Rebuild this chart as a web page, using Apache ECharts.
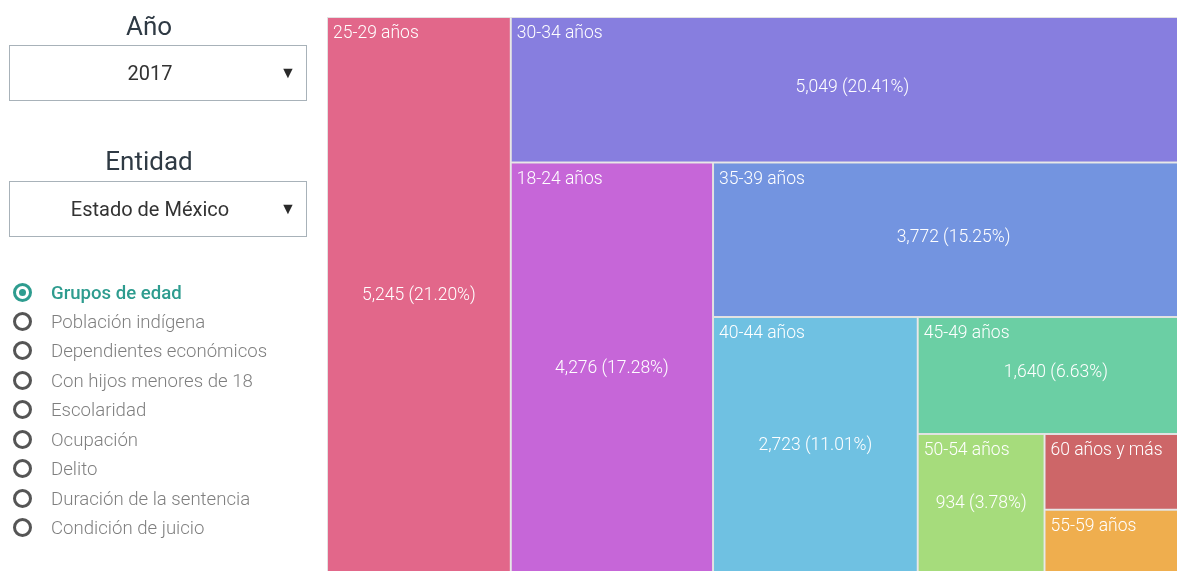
<!DOCTYPE html>
<html>
<head>
<meta charset="utf-8">
<script src="https://cdn.jsdelivr.net/npm/echarts@6/dist/echarts.min.js"></script>
<style>
  html, body { margin: 0; padding: 0; background: #fff; overflow: hidden; }
  #chart { position: absolute; left: 0; top: 0; width: 1177px; height: 571px; }
  .panel { position: absolute; left: 0; top: 0; width: 320px; height: 571px; font-family: Roboto, "Noto Sans", sans-serif; }
  .title { position: absolute; left: 0; width: 298px; text-align: center; font-size: 26px; line-height: 30px; color: #2f3a44; }
  .select { position: absolute; left: 9px; width: 298px; height: 56px; box-sizing: border-box; border: 1px solid #a8b2b9; background: #fff; }
  .select .txt { position: absolute; left: 0; top: 0; width: 280px; height: 54px; line-height: 54px; text-align: center; font-size: 20px; color: #333; }
  .select .arr { position: absolute; left: 270px; top: 0; width: 16px; height: 54px; line-height: 54px; text-align: center; font-size: 16px; color: #2a2a2a; }
  .radio { position: absolute; left: 13px; height: 24px; line-height: 24px; font-size: 18.6px; font-weight: 300; color: #7f7f7f; white-space: nowrap; }
  .radio .dot { position: absolute; left: 0; top: 2px; width: 19px; height: 19px; box-sizing: border-box; border: 3px solid #555; border-radius: 50%; }
  .radio.on { color: #2e9c8f; font-weight: 500; }
  .radio.on .dot { border-color: #2e9c8f; }
  .radio.on .dot::after { content: ""; position: absolute; left: 3px; top: 3px; width: 7px; height: 7px; border-radius: 50%; background: #2e9c8f; }
  .radio .lbl { position: absolute; left: 38px; top: 0; }
</style>
</head>
<body>
<div id="chart"></div>
<div class="panel" id="panel"></div>
<script>
// ---- Data ----
const yearLabel = 'Año';
const yearValue = '2017';
const entityLabel = 'Entidad';
const entityValue = 'Estado de México';
const menuItems = ['Grupos de edad', 'Población indígena', 'Dependientes económicos', 'Con hijos menores de 18', 'Escolaridad', 'Ocupación', 'Delito', 'Duración de la sentencia', 'Condición de juicio'];
const selectedMenu = 0;

const categories = ['25-29 años', '30-34 años', '18-24 años', '35-39 años', '40-44 años', '45-49 años', '50-54 años', '60 años y más', '55-59 años'];
const values = [5245, 5049, 4276, 3772, 2723, 1640, 934, 576, 525];
const colors = ['#E2678A', '#877EDF', '#C666D8', '#7394E0', '#6FC1E2', '#6BCFA4', '#A6DC7C', '#CD6668', '#EFAE4E'];

// ---- Left panel ----
const panel = document.getElementById('panel');
function el(cls, html, style) { const d = document.createElement('div'); d.className = cls; d.innerHTML = html; Object.assign(d.style, style || {}); panel.appendChild(d); return d; }
el('title', yearLabel, { top: '11px' });
el('select', '<div class="txt">' + yearValue + '</div><div class="arr">▼</div>', { top: '45px' });
el('title', entityLabel, { top: '146px' });
el('select', '<div class="txt">' + entityValue + '</div><div class="arr">▼</div>', { top: '181px' });
menuItems.forEach(function (m, i) {
  el('radio' + (i === selectedMenu ? ' on' : ''), '<span class="dot"></span><span class="lbl">' + m + '</span>', { top: (280.5 + i * 29.45) + 'px' });
});

// ---- Chart ----
const total = values.reduce(function (a, b) { return a + b; }, 0);
function fmtValue(v) {
  const pct = v / total * 100;
  if (pct < 3) return '';
  return v.toLocaleString('en-US') + ' (' + pct.toFixed(2) + '%)';
}
function leaf(i, fill) {
  return {
    name: categories[i],
    value: values[i],
    itemStyle: fill
      ? { color: colors[i], borderColor: '#e2e2e2', borderWidth: 1 }
      : { color: 'transparent', borderColor: 'transparent', borderWidth: 1 }
  };
}
function nest(i, fill) {
  if (i >= categories.length - 2) return [leaf(i, fill), leaf(i + 1, fill)];
  return [leaf(i, fill), { name: 'grupo' + i, children: nest(i + 1, fill), itemStyle: { borderWidth: 0, gapWidth: 0, borderColor: 'transparent' } }];
}
function baseSeries(fill) {
  return {
    type: 'treemap',
    left: 327, top: 17, width: 867, height: 562,
    sort: false,
    squareRatio: 1.4,
    roam: false,
    nodeClick: false,
    animation: false,
    breadcrumb: { show: false },
    upperLabel: { show: false },
    itemStyle: { borderWidth: 0, gapWidth: 0, borderColor: 'transparent' },
    emphasis: { disabled: true },
    data: nest(0, fill)
  };
}
const s1 = baseSeries(true);
s1.label = {
  show: true, position: 'inside', align: 'center', verticalAlign: 'middle',
  offset: [0, -2.5],
  fontSize: 17.5, fontWeight: 300, fontFamily: 'Roboto', color: '#ffffff',
  formatter: function (p) { return fmtValue(p.value); }
};
const s2 = baseSeries(false);
s2.silent = true;
s2.label = {
  show: true, position: 'insideTopLeft',
  padding: [7, 5, 5, 5],
  fontSize: 17.5, fontWeight: 300, fontFamily: 'Roboto', color: '#ffffff',
  formatter: '{b}'
};

const chart = echarts.init(document.getElementById('chart'), null, { renderer: 'canvas' });
chart.setOption({
  animation: false,
  textStyle: { fontFamily: 'Roboto' },
  tooltip: { show: false },
  series: [s1, s2]
});
</script>
</body>
</html>
